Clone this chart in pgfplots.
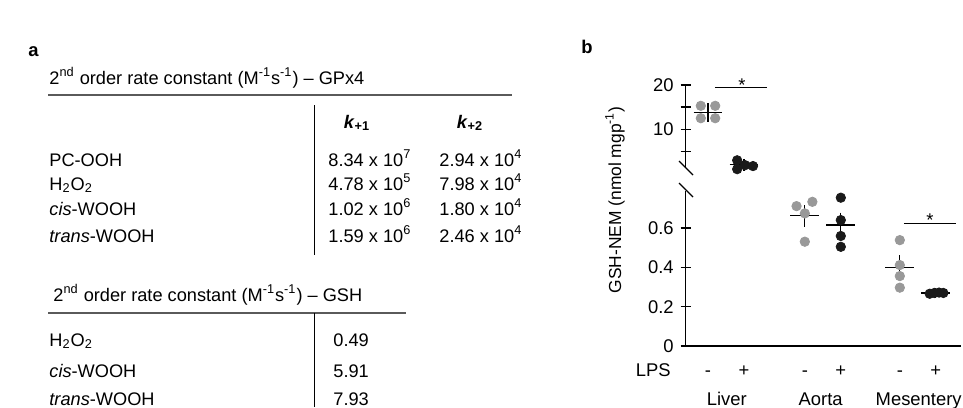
\documentclass[border=0pt]{standalone}
\usepackage{pgfplots}
\pgfplotsset{compat=1.18}
\usepackage{fontspec}
\setmainfont{Liberation Sans}
\definecolor{ctrl}{HTML}{999999}
\definecolor{lps}{HTML}{1A1A1A}
\definecolor{rulec}{HTML}{5A5A5A}

\newcommand{\tfont}{\fontsize{9.1}{10}\selectfont}
\newcommand{\cfont}{\fontsize{9.2}{11}\selectfont}

\pgfplotsset{
  panelb/.style={
    scale only axis, clip=false,
    width=137.65pt,
    xmin=-0.62, xmax=7.03,
    tick align=outside, major tick length=5pt,
    tick style={line width=0.7pt, black},
    yticklabel style={font=\cfont},
    /pgf/number format/assume math mode=true,
    xtick=\empty,
  },
  nohead/.style={
    axis line style={-, line width=0.7pt, black},
    x axis line style={-}, y axis line style={-},
  },
  sem/.style={draw=none, mark=none, forget plot,
    error bars/.cd, y dir=both, y explicit,
    error bar style={draw=black, line width=0.6pt},
    error mark options={draw=black, mark size=2pt, line width=0.6pt}},
  meanline/.style={black, line width=0.6pt, unbounded coords=jump, forget plot},
}
\tikzset{lpslab/.style={anchor=base, inner sep=0pt, font=\cfont}}

\begin{document}
\begin{tikzpicture}[x=0.5pt,y=-0.5pt]
\path[use as bounding box] (0,0) rectangle (963,407);

% ---------- panel a: rate constants ----------
\node[anchor=base west, inner sep=0pt, font=\bfseries\cfont] at (28,56) {a};
\begin{scope}[every node/.style={inner sep=0pt, anchor=base west, font=\tfont}]
\node at (49,84) {2\textsuperscript{nd} order rate constant (M\textsuperscript{-1}s\textsuperscript{-1}) -- GPx4};
\draw[rulec, line width=0.6pt] (48,95) -- (512,95);
\draw[black, line width=0.5pt] (314,105) -- (314,255);
\node[anchor=base] at (357,128) {\textbf{\textit{k}\textsubscript{+1}}};
\node[anchor=base] at (470,128) {\textbf{\textit{k}\textsubscript{+2}}};
\node at (49,166) {PC-OOH};
\node at (49,190) {H\textsubscript{2}O\textsubscript{2}};
\node at (49,215) {\textit{cis}-WOOH};
\node at (49,242) {\textit{trans}-WOOH};
\node at (328,166) {8.34 x 10\textsuperscript{7}};
\node at (328,190) {4.78 x 10\textsuperscript{5}};
\node at (328,215) {1.02 x 10\textsuperscript{6}};
\node at (328,242) {1.59 x 10\textsuperscript{6}};
\node at (439,166) {2.94 x 10\textsuperscript{4}};
\node at (439,190) {7.98 x 10\textsuperscript{4}};
\node at (439,215) {1.80 x 10\textsuperscript{4}};
\node at (439,242) {2.46 x 10\textsuperscript{4}};

\node at (53,301) {2\textsuperscript{nd} order rate constant (M\textsuperscript{-1}s\textsuperscript{-1}) -- GSH};
\draw[rulec, line width=0.6pt] (48,313) -- (406,313);
\draw[black, line width=0.5pt] (314,313) -- (314,407);
\node at (49,346) {H\textsubscript{2}O\textsubscript{2}};
\node at (49,377) {\textit{cis}-WOOH};
\node at (49,405) {\textit{trans}-WOOH};
\node at (333,346) {0.49};
\node at (333,377) {5.91};
\node at (333,405) {7.93};
\end{scope}

% ---------- panel b: GSH-NEM ----------
\node[anchor=base west, inner sep=0pt, font=\bfseries\cfont] at (581,53) {b};

% upper segment of the broken axis (liver)
\begin{axis}[panelb,
  at={(342.85pt,-83.25pt)}, anchor=south west,
  height=40.75pt,
  ymin=1.6, ymax=20,
  axis x line=none, axis y line=left,
  ytick={5,10,15,20}, yticklabels={,10,,20},
  nohead,
]
\addplot[only marks, mark=*, mark size=2.35pt, color=ctrl] coordinates {
  (-0.2,15.3) (0.2,15.3) (-0.2,12.5) (0.2,12.5)};
\addplot[only marks, mark=*, mark size=2.35pt, color=lps] coordinates {
  (0.81,3.0) (0.81,1.0) (1.03,1.9) (1.25,1.7)};
\addplot[meanline] coordinates {(-0.4,13.8) (0.4,13.8) (0.4,nan) (0.6,2.0) (1.4,2.0)};
\addplot[sem] coordinates {(0,13.8) +- (0,1.2) (1,2.0) +- (0,0.4)};
\draw[line width=0.6pt] (axis cs:0.19,19.5) -- (axis cs:1.63,19.5);
\node[anchor=base, inner sep=0pt, font=\cfont] at (axis cs:0.94,18.6) {*};
\end{axis}

% lower segment (aorta, mesentery)
\begin{axis}[panelb,
  at={(342.85pt,-173pt)}, anchor=south west,
  height=77.6pt,
  ymin=0, ymax=0.79,
  axis x line=bottom, axis y line=left,
  ytick={0,0.2,0.4,0.6}, yticklabels={0,0.2,0.4,0.6},
  nohead,
]
\addplot[only marks, mark=*, mark size=2.35pt, color=ctrl] coordinates {
  (2.46,0.712) (2.90,0.734) (2.69,0.675) (2.69,0.531)
  (5.33,0.539) (5.33,0.412) (5.33,0.356) (5.33,0.297)};
\addplot[only marks, mark=*, mark size=2.35pt, color=lps] coordinates {
  (3.69,0.755) (3.69,0.641) (3.69,0.560) (3.69,0.505)
  (6.16,0.266) (6.29,0.270) (6.42,0.272) (6.54,0.270)};
\addplot[meanline] coordinates {
  (2.29,0.663) (3.09,0.663) (3.09,nan)
  (3.29,0.616) (4.09,0.616) (4.09,nan)
  (4.93,0.400) (5.73,0.400) (5.73,nan)
  (5.93,0.270) (6.73,0.270)};
\addplot[sem] coordinates {
  (2.69,0.663) += (0,0.034) -= (0,0.036)
  (3.69,0.616) += (0,0.042) -= (0,0.039)
  (5.33,0.400) += (0,0.041) -= (0,0.039)
  (6.33,0.270) +- (0,0.004)};
\draw[line width=0.6pt] (axis cs:5.44,0.622) -- (axis cs:6.88,0.622);
\node[anchor=base, inner sep=0pt, font=\cfont] at (axis cs:6.17,0.61) {*};
% LPS -/+ row
\node[lpslab] at (axis cs:0,-0.155) {-};
\node[lpslab] at (axis cs:1,-0.155) {+};
\node[lpslab] at (axis cs:2.69,-0.155) {-};
\node[lpslab] at (axis cs:3.69,-0.155) {+};
\node[lpslab] at (axis cs:5.33,-0.155) {-};
\node[lpslab] at (axis cs:6.33,-0.155) {+};
\end{axis}

% break marks on the y axis
\draw[line width=0.6pt] (679,161) -- (693,175);
\draw[line width=0.6pt] (679,183) -- (693,197);

\node[anchor=base east, inner sep=0pt, font=\cfont] at (671,376.5) {LPS};
\node[anchor=base, inner sep=0pt, font=\cfont] at (726.7,405) {Liver};
\node[anchor=base, inner sep=0pt, font=\cfont] at (820.7,405) {Aorta};
\node[anchor=base east, inner sep=0pt, font=\cfont] at (962,405) {Mesentery};
\node[rotate=90, inner sep=0pt, font=\fontsize{8.7}{10}\selectfont] at (615,200) {GSH-NEM (nmol mgp\textsuperscript{-1})};
\end{tikzpicture}
\end{document}
